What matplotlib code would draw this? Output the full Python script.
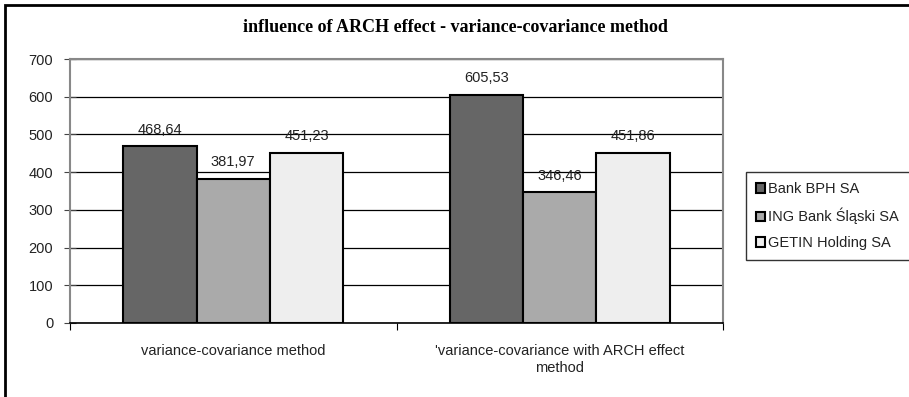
import numpy as np
import matplotlib.pyplot as plt
from matplotlib.patches import Rectangle

categories = ["variance-covariance method", "'variance-covariance with ARCH effect\nmethod"]
banks = ["Bank BPH SA", "ING Bank Śląski SA", "GETIN Holding SA"]
bph = [468.64, 605.53]
ing = [381.97, 346.46]
getin = [451.23, 451.86]
cores = ["#666666", "#aaaaaa", "#eeeeee"]

plt.rcParams["font.family"] = ["Liberation Sans", "DejaVu Sans"]

fig = plt.figure(figsize=(9.09, 3.97), dpi=100)
ax = fig.add_axes([70 / 909, 1 - 323 / 397, 653 / 909, 264 / 397])

x = np.arange(len(categories))
largura = 0.225
for i, (serie, nome) in enumerate(zip([bph, ing, getin], banks)):
    pos = x + (i - 1) * largura
    barras = ax.bar(pos, serie, largura, color=cores[i], edgecolor="black",
                    linewidth=1.5, label=nome, zorder=3)
    for b, v in zip(barras, serie):
        ax.annotate(f"{v:.2f}".replace(".", ","), (b.get_x() + b.get_width() / 2, v),
                    xytext=(0, 7), textcoords="offset points", ha="center",
                    va="bottom", fontsize=10.5, color="#222222", zorder=4)

ax.set_xlim(-0.5, 1.5)
ax.set_ylim(0, 700)
ax.set_yticks(range(0, 701, 100))
ax.yaxis.grid(True, color="black", linewidth=0.9, zorder=0)
ax.set_axisbelow(True)

ax.set_xticks([-0.5, 0.5, 1.5])
ax.set_xticklabels([])
ax.set_xticks(x, minor=True)
ax.set_xticklabels(categories, minor=True, fontsize=10.5, color="#222222",
                   linespacing=1.3)
ax.tick_params(axis="x", which="major", length=5, direction="out", color="black")
ax.tick_params(axis="x", which="minor", length=0, pad=15)
ax.tick_params(axis="y", direction="inout", length=8, color="#444444",
               labelsize=10.5, labelcolor="#222222", pad=8)

for lado in ["left", "top", "right"]:
    ax.spines[lado].set_color("#888888")
    ax.spines[lado].set_linewidth(1.5)
ax.spines["bottom"].set_color("black")
ax.spines["bottom"].set_linewidth(1.2)

fig.text(455 / 909, 1 - 27 / 397, "influence of ARCH effect - variance-covariance method",
         ha="center", va="center", fontsize=13, fontweight="bold",
         family="Liberation Serif")

leg = ax.legend(loc="upper left", bbox_to_anchor=(746 / 909, 1 - 176 / 397, 200 / 909, 0.01),
                bbox_transform=fig.transFigure, mode="expand", frameon=True, fancybox=False,
                fontsize=10.5, handlelength=0.6, handleheight=0.6, handletextpad=0.2,
                labelspacing=0.8, borderpad=0.7, borderaxespad=0)
leg.get_frame().set_edgecolor("black")
leg.get_frame().set_linewidth(1.0)
for t in leg.get_texts():
    t.set_color("#222222")

fig.patches.append(Rectangle((5 / 909, -0.1), 1.0, 1.1 - 5 / 397,
                             transform=fig.transFigure, fill=False,
                             edgecolor="black", linewidth=2))

plt.savefig("out.png", dpi=100)
